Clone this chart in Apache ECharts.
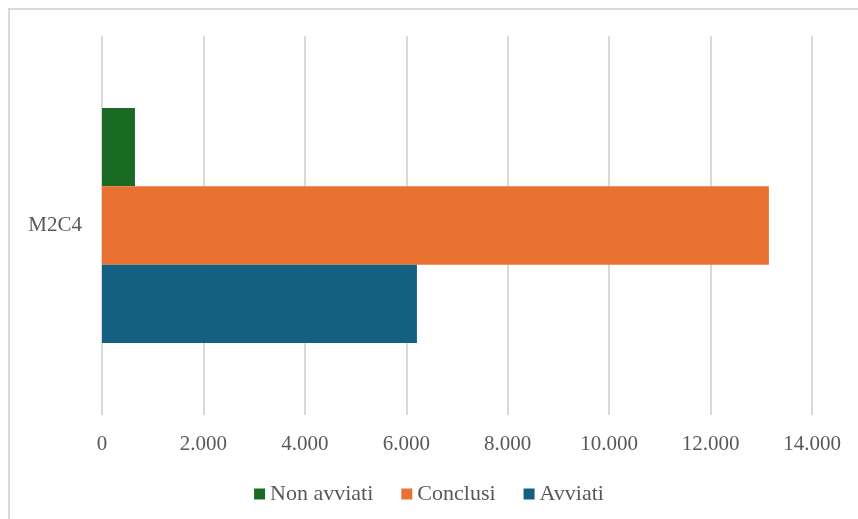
<!DOCTYPE html>
<html>
<head>
<meta charset="utf-8">
<script src="https://cdn.jsdelivr.net/npm/echarts@6/dist/echarts.min.js"></script>
<style>
  html, body { margin: 0; padding: 0; background: #fff; }
  #chart { width: 858px; height: 519px; }
</style>
</head>
<body>
<div id="chart"></div>
<script>
// Progetti per stato di avanzamento
const categories = ['M2C4'];
const nonAvviati = [650];
const conclusi = [13150];
const avviati = [6210];
const xTicks = { min: 0, max: 14000, interval: 2000 };

const FONT = 'Liberation Serif';
const TEXT = '#595959';

function fmt(v) {
  return String(v).replace(/\B(?=(\d{3})+(?!\d))/g, '.');
}

const chart = echarts.init(document.getElementById('chart'));
chart.setOption({
  animation: false,
  backgroundColor: '#ffffff',
  textStyle: { fontFamily: FONT },
  graphic: [{
    type: 'rect',
    shape: { x: 9, y: 9, width: 1000, height: 700 },
    style: { fill: 'none', stroke: '#d9d9d9', lineWidth: 2 },
    silent: true
  }],
  grid: { left: 102, right: 46, top: 36, bottom: 104 },
  legend: {
    data: ['Non avviati', 'Conclusi', 'Avviati'],
    left: 'center',
    top: 478,
    icon: 'rect',
    itemWidth: 11,
    itemHeight: 11,
    itemGap: 28,
    textStyle: { fontFamily: FONT, fontSize: 22, color: TEXT }
  },
  xAxis: {
    type: 'value',
    min: xTicks.min,
    max: xTicks.max,
    interval: xTicks.interval,
    axisLine: { show: false },
    axisTick: { show: false },
    splitLine: { lineStyle: { color: '#d9d9d9', width: 2 } },
    axisLabel: { fontFamily: FONT, fontSize: 21, color: TEXT, margin: 19, formatter: fmt }
  },
  yAxis: {
    type: 'category',
    data: categories,
    axisLine: { show: false },
    axisTick: { show: false },
    axisLabel: { fontFamily: FONT, fontSize: 21, color: TEXT, margin: 20 }
  },
  series: [
    { name: 'Non avviati', type: 'bar', data: nonAvviati, itemStyle: { color: '#196b24' }, barGap: '0%', barCategoryGap: '38%' },
    { name: 'Conclusi', type: 'bar', data: conclusi, itemStyle: { color: '#e97132' }, barGap: '0%', barCategoryGap: '38%' },
    { name: 'Avviati', type: 'bar', data: avviati, itemStyle: { color: '#156082' }, barGap: '0%', barCategoryGap: '38%' }
  ]
});
</script>
</body>
</html>
